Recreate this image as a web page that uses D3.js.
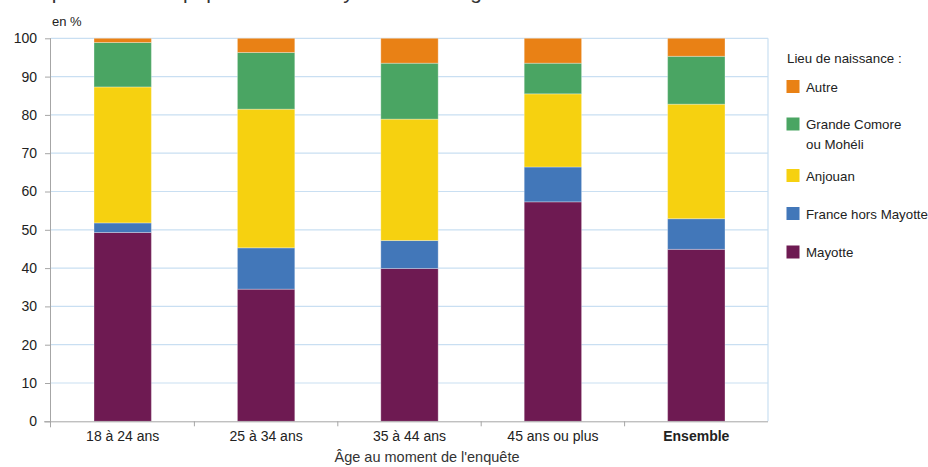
<!DOCTYPE html>
<html><head><meta charset="utf-8">
<script src="https://cdn.jsdelivr.net/npm/d3@7"></script>
<style>
body{margin:0;background:#fff;}
svg{display:block;font-family:"Liberation Sans",Arial,Helvetica,sans-serif;}
</style></head>
<body><svg id="c" width="928" height="467"></svg>
<script>
const categories = ["18 à 24 ans","25 à 34 ans","35 à 44 ans","45 ans ou plus","Ensemble"];
const seriesNames = ["Mayotte","France hors Mayotte","Anjouan","Grande Comore ou Mohéli","Autre"];
const mayotte   = [49.3, 34.5, 39.9, 57.3, 44.9];
const franceHM  = [2.5, 10.8, 7.3, 9.1, 8.0];
const anjouan   = [35.5, 36.2, 31.7, 19.1, 29.9];
const grandeCom = [11.6, 14.8, 14.6, 8.0, 12.5];
const autre     = [1.1, 3.7, 6.5, 6.5, 4.7];
const colors = ["#6e1a52","#4277b9","#f6d110","#4aa563","#e98115"];
const yTicks = [0,10,20,30,40,50,60,70,80,90,100];

const svg = d3.select("#c");
const mLeft = 51, mRight = 768, mTop = 38.3, mBottom = 421.3;

// cut-off title at top (only descenders visible in the reference)
svg.append("text").attr("x",25).attr("y",-1.2).attr("font-size",20.9).attr("fill","#333")
  .text("Répartition de la population de Mayotte selon l'âge et le lieu de naissance");

const x = d3.scaleBand().domain(categories).range([mLeft,mRight]).paddingInner(0.6).paddingOuter(0.3);
const y = d3.scaleLinear().domain([0,100]).range([mBottom,mTop]);

// gridlines
svg.append("g").selectAll("line").data(yTicks.filter(d=>d>0)).join("line")
  .attr("x1",mLeft).attr("x2",mRight).attr("y1",d=>y(d)).attr("y2",d=>y(d))
  .attr("stroke","#c9dff2").attr("stroke-width",1.2);
svg.append("line").attr("x1",mRight).attr("x2",mRight).attr("y1",mTop).attr("y2",mBottom)
  .attr("stroke","#c9dff2").attr("stroke-width",1.2);

// stacked data
const rows = categories.map((c,i)=>({cat:c, "Mayotte":mayotte[i], "France hors Mayotte":franceHM[i],
  "Anjouan":anjouan[i], "Grande Comore ou Mohéli":grandeCom[i], "Autre":autre[i]}));
const stack = d3.stack().keys(seriesNames)(rows);

svg.append("g").selectAll("g").data(stack).join("g").attr("fill",(d,i)=>colors[i])
  .selectAll("rect").data(d=>d).join("rect")
  .attr("x",d=>x(d.data.cat)).attr("width",x.bandwidth())
  .attr("y",d=>y(d[1])).attr("height",d=>y(d[0])-y(d[1]))
  .attr("stroke","#ffffff").attr("stroke-opacity",0.3).attr("stroke-width",1);

// y axis
const yAxis = d3.axisLeft(y).tickValues(yTicks).tickSize(6).tickPadding(8);
const gy = svg.append("g").attr("transform",`translate(${mLeft},0)`).call(yAxis);
gy.select(".domain").attr("stroke","#a6a6a6").attr("d",`M-0.5,${mTop}V${mBottom+6}`);
gy.selectAll(".tick line").attr("stroke","#a6a6a6");
gy.selectAll(".tick text").attr("font-size",14).attr("fill","#222").attr("font-family","Liberation Sans, Arial, sans-serif");

// x axis
const gx = svg.append("g").attr("transform",`translate(0,${mBottom})`);
gx.append("line").attr("x1",mLeft-7).attr("x2",mRight).attr("y1",0.5).attr("y2",0.5).attr("stroke","#a6a6a6");
const bounds = categories.slice(1).map(c=>x(c)-x.step()*x.paddingInner()/2);
gx.selectAll(".bt").data(bounds).join("line").attr("class","bt")
  .attr("x1",d=>d).attr("x2",d=>d).attr("y1",0).attr("y2",5).attr("stroke","#a6a6a6");
gx.selectAll(".lbl").data(categories).join("text").attr("class","lbl")
  .attr("x",d=>x(d)+x.bandwidth()/2).attr("y",20).attr("text-anchor","middle")
  .attr("font-size",14).attr("fill","#222")
  .attr("font-weight",(d,i)=>i===categories.length-1?"bold":"normal").text(d=>d);

svg.append("text").attr("x",427).attr("y",462).attr("text-anchor","middle")
  .attr("font-size",14.5).attr("fill","#333").text("Âge au moment de l'enquête");
svg.append("text").attr("x",52).attr("y",26).attr("font-size",13).attr("fill","#222").text("en %");

// legend
const lg = svg.append("g");
lg.append("text").attr("x",787).attr("y",62.5).attr("font-size",13.3).attr("fill","#222").text("Lieu de naissance :");
const legendItems = [
  {i:4, y:80, lines:["Autre"]},
  {i:3, y:117.5, lines:["Grande Comore","ou Mohéli"]},
  {i:2, y:169, lines:["Anjouan"]},
  {i:1, y:207, lines:["France hors Mayotte"]},
  {i:0, y:245.5, lines:["Mayotte"]}
];
legendItems.forEach(it=>{
  lg.append("rect").attr("x",786.5).attr("y",it.y).attr("width",13).attr("height",13).attr("fill",colors[it.i]);
  it.lines.forEach((t,k)=>{
    lg.append("text").attr("x",806).attr("y",it.y+11.5+k*19.5).attr("font-size",13.3).attr("fill","#222").text(t);
  });
});
</script></body></html>
